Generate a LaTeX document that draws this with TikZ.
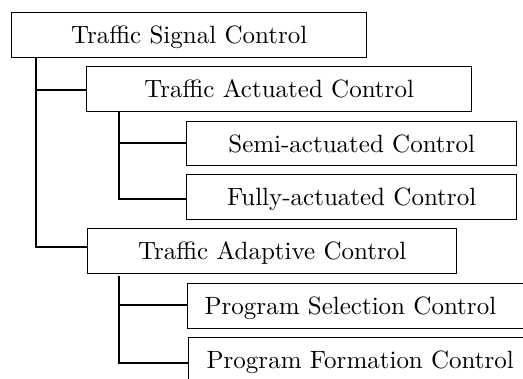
\documentclass[tikz,border=0pt]{standalone}
\usepackage{fontspec}
\setmainfont{lmroman10-regular}[Extension=.otf]
\begin{document}
\begin{tikzpicture}[x=1pt,y=-1pt,
  box/.style={draw, line width=1.3pt, inner sep=0pt, anchor=north west,
    minimum height=45pt, text height=17pt, text depth=0pt,
    font=\fontsize{25}{30}\selectfont},
  leftbox/.style={box, text width=380pt, align=left, inner xsep=17pt},
  conn/.style={line width=1.3pt}]
\useasboundingbox (0,0) rectangle (523,379);
\clip (0,0) rectangle (523,379);
\node[box, minimum width=355pt] (tsc) at (11,12) {Traffic Signal Control};
\node[box, minimum width=385pt] (tac) at (86,66) {Traffic Actuated Control};
\node[box, minimum width=330pt, minimum height=44pt] (sac) at (186,121) {Semi-actuated Control};
\node[box, minimum width=330pt] (fac) at (186,174) {Fully-actuated Control};
\node[box, minimum width=369pt] (tad) at (87,228) {Traffic Adaptive Control};
\node[leftbox] (psc) at (187,283) {Program Selection Control};
\node[leftbox, inner xsep=18pt] (pfc) at (188,337) {Program Formation Control};
% trunk coordinates
\coordinate (t1) at (36,247);
\coordinate (j1) at (36,90);
\coordinate (t2) at (119,199);
\coordinate (j2) at (119,143);
\coordinate (s3) at (119,276);
\coordinate (t3) at (119,363);
\coordinate (j3) at (119,305);
\draw[conn] (tsc.south -| t1) -- (t1) -- (t1 -| tad.west);
\draw[conn] (j1) -- (j1 -| tac.west);
\draw[conn] (tac.south -| t2) -- (t2) -- (t2 -| fac.west);
\draw[conn] (j2) -- (j2 -| sac.west);
\draw[conn] (s3) -- (t3) -- (t3 -| pfc.west);
\draw[conn] (j3) -- (j3 -| psc.west);
\end{tikzpicture}
\end{document}
